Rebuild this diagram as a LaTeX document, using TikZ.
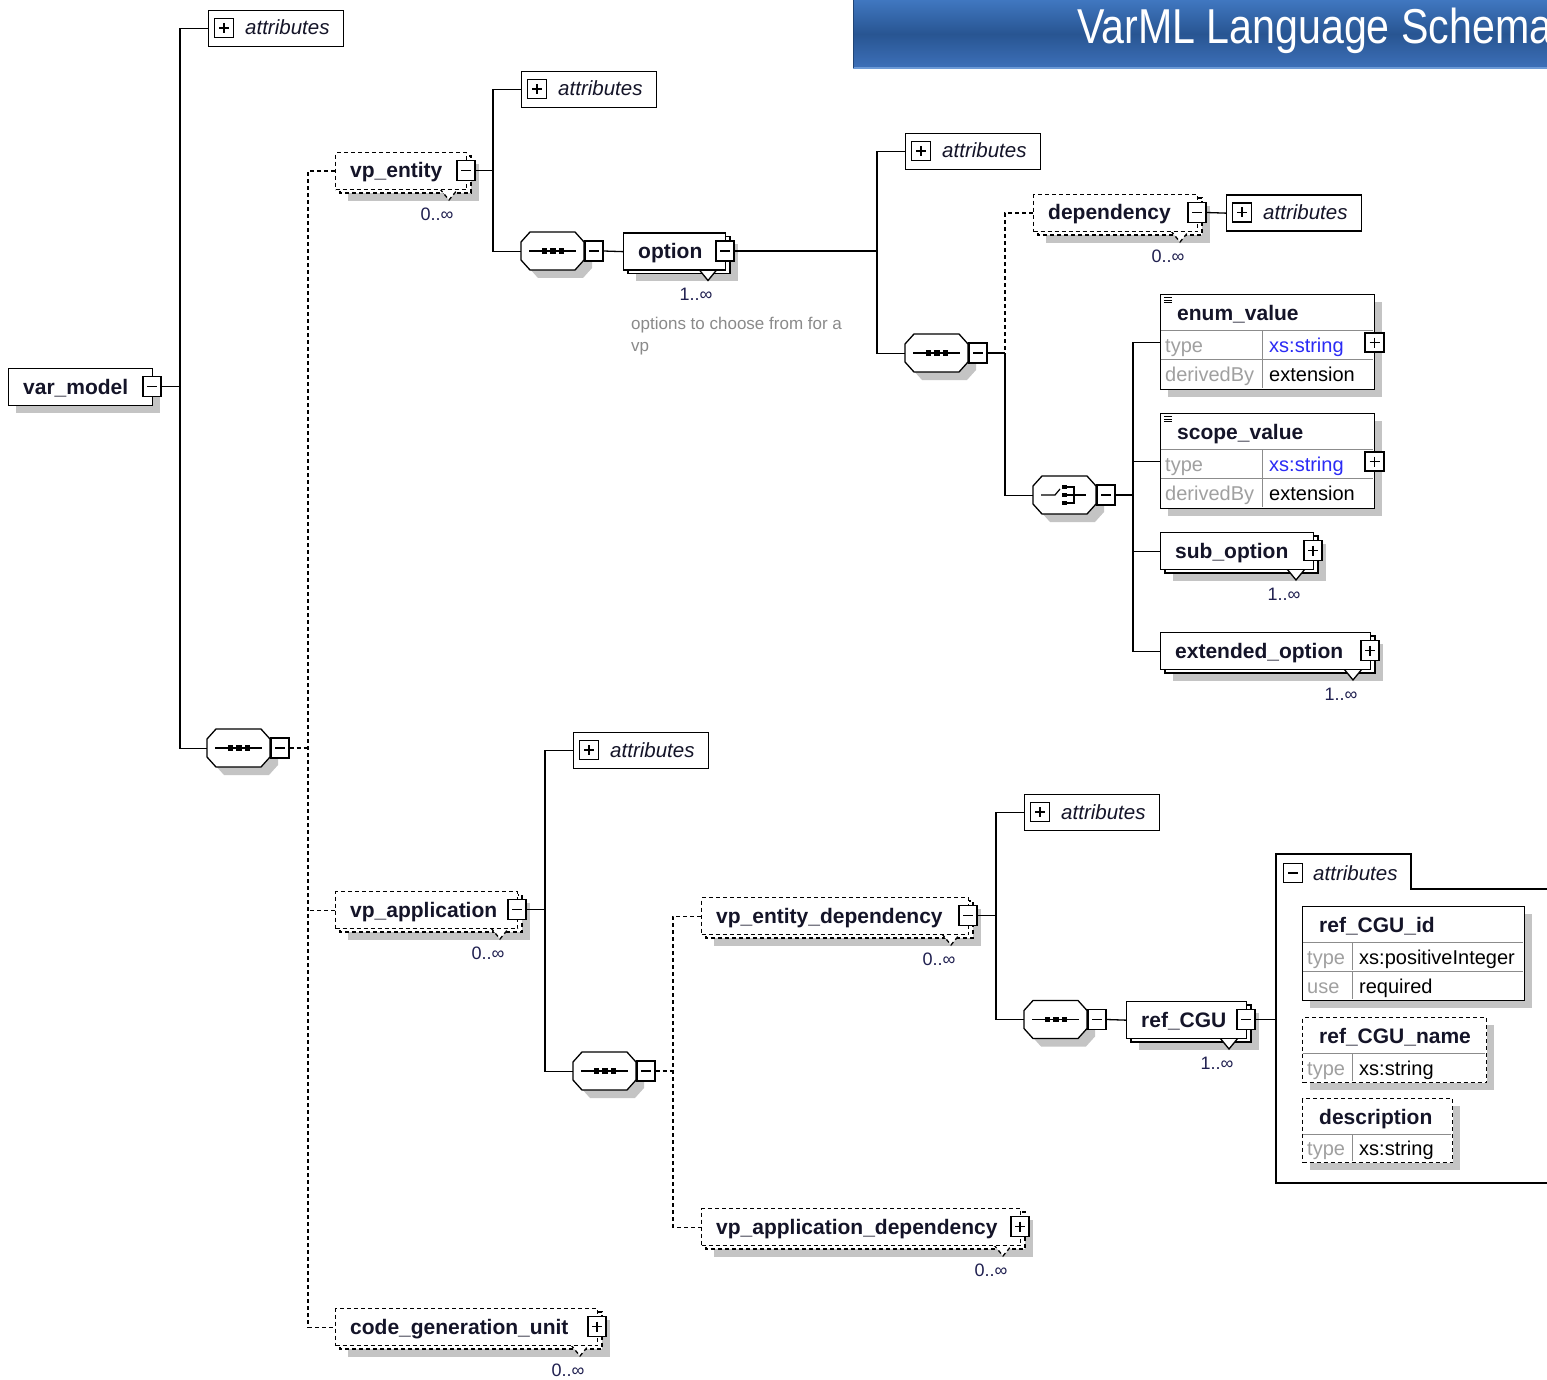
\documentclass[tikz,border=0pt]{standalone}
\usepackage{fontspec}
\setmainfont{Liberation Sans}
\usepackage{graphicx}
\definecolor{shadowc}{HTML}{C4C4C4}
\definecolor{keyc}{HTML}{A0A0A0}
\definecolor{typec}{HTML}{2B2BF5}
\definecolor{multc}{HTML}{202050}
\definecolor{notec}{HTML}{8A8A8A}
\definecolor{namec}{HTML}{141428}
\definecolor{rowc}{HTML}{8C8C8C}
\definecolor{bannertop}{HTML}{4077C0}
\definecolor{bannermid}{HTML}{285592}
\definecolor{bannerbot}{HTML}{3D70B9}
\definecolor{banneredge}{HTML}{6C9AD6}

\tikzset{
  boxline/.style={line width=1.3pt},
  optline/.style={dash pattern=on 4pt off 3pt},
  reqline/.style={},
  conn/.style={draw, line width=1.3pt},
  elbox/.style={draw, fill=white, boxline, minimum height=37pt, inner sep=0pt, anchor=north west},
  tbox/.style={draw, fill=white, boxline, inner sep=0pt, anchor=north west},
  attrbox/.style={draw, fill=white, boxline, minimum width=135pt, minimum height=36pt, inner sep=0pt, anchor=north west},
  btn/.style={draw, fill=white, line width=1.2pt, minimum width=18pt, minimum height=20pt, inner sep=0pt},
  ibtn/.style={draw, fill=white, line width=1.2pt, minimum width=19pt, minimum height=19pt, inner sep=0pt},
  sign/.style={line width=1.3pt},
  elname/.style={anchor=base west, inner sep=0pt, font=\bfseries\fontsize{21pt}{24pt}\selectfont, text=namec},
  attrname/.style={anchor=base west, inner sep=0pt, font=\itshape\fontsize{20.5pt}{24pt}\selectfont, text=namec},
  mult/.style={inner sep=0pt, font=\fontsize{18pt}{20pt}\selectfont, text=multc},
  rowtext/.style={anchor=base west, inner sep=0pt, font=\fontsize{20pt}{22pt}\selectfont},
  rowline/.style={draw=rowc, line width=1pt},
  note/.style={anchor=base west, inner sep=0pt, font=\fontsize{17pt}{20pt}\selectfont, text=notec},
  anchorbox/.style={anchor=north west, inner sep=0pt}
}

% element box: name, left, top, width, label, line style, button (p/m), multiplicity
\newcommand\xsdElem[8]{%
  \if\relax\detokenize{#8}\relax
    \fill[shadowc] (#2+8,#3+8) rectangle ++(#4,37);
  \else
    \fill[shadowc] (#2+13,#3+12) rectangle ++(#4,37);
    \draw[boxline,#6,fill=white] (#2+5,#3+4) rectangle ++(#4,37);
    \draw[boxline,#6,fill=white] (#2+#4-26,#3+37) -- (#2+#4-17,#3+48) -- (#2+#4-8,#3+37);
  \fi
  \node[elbox,#6,minimum width=#4pt] (#1) at (#2,#3) {};
  \node[elname] (#1-t) at (#2+15,#3+26) {#5};
  \node[btn] (#1-b) at (#2+#4,#3+18.5) {};
  \draw[sign] (#2+#4-5,#3+18.5) -- ++(10,0);
  \if p#7\draw[sign] (#2+#4,#3+13.5) -- ++(0,10);\fi
  \if\relax\detokenize{#8}\relax\else
    \node[mult] (#1-m) at (#2+#4-29,#3+62) {#8};
  \fi
}

% compositor (octagon with collapse button): name, left, top
\newcommand\xsdComp[3]{%
  \fill[shadowc] (#2+17,#3+8) -- (#2+62,#3+8) -- (#2+71,#3+18) -- (#2+71,#3+36) -- (#2+62,#3+46) -- (#2+17,#3+46) -- (#2+8,#3+36) -- (#2+8,#3+18) -- cycle;
  \draw[boxline,fill=white] (#2+9,#3) -- (#2+54,#3) -- (#2+63,#3+10) -- (#2+63,#3+28) -- (#2+54,#3+38) -- (#2+9,#3+38) -- (#2,#3+28) -- (#2,#3+10) -- cycle;
  \node[anchorbox,minimum width=63pt,minimum height=38pt] (#1) at (#2,#3) {};
  \node[btn] (#1-b) at (#2+73,#3+19) {};
  \draw[sign] (#2+68,#3+19) -- ++(10,0);
}
\newcommand\xsdSeqIcon[2]{%
  \draw[line width=1.3pt] (#1+8,#2+19) -- (#1+55,#2+19);
  \foreach \dx in {23.5,32,40.5} \fill (#1+\dx-2.75,#2+16.25) rectangle ++(5.5,5.5);
}
\newcommand\xsdChoiceIcon[2]{%
  \draw[line width=1.2pt] (#1+8,#2+19) -- (#1+22,#2+19) -- (#1+27,#2+13);
  \foreach \dy in {11,19,27} \fill (#1+29,#2+\dy-2.25) rectangle ++(4.5,4.5);
  \draw[line width=1.2pt] (#1+33,#2+11) -- (#1+41,#2+11) -- (#1+41,#2+27) -- (#1+33,#2+27);
  \draw[line width=1.2pt] (#1+33,#2+19) -- (#1+53,#2+19);
}

% collapsed attribute group: name, left, top
\newcommand\xsdAttr[3]{%
  \node[attrbox] (#1) at (#2,#3) {};
  \node[ibtn] (#1-i) at (#2+16,#3+18) {};
  \draw[sign] (#2+11,#3+18) -- ++(10,0) (#2+16,#3+13) -- ++(0,10);
  \node[attrname] (#1-t) at (#2+37,#3+25) {attributes};
}

% type table: name, left, top, width, height, line style, title
\newcommand\xsdTable[7]{%
  \fill[shadowc] (#2+8,#3+8) rectangle ++(#4,#5);
  \node[tbox,#6,minimum width=#4pt,minimum height=#5pt] (#1) at (#2,#3) {};
  \node[elname] (#1-t) at (#2+17,#3+26) {#7};
}
% table row: name, left, top, height, width, column offset, key, value, value colour
\newcommand\xsdRow[9]{%
  \draw[rowline] (#2+0.7,#3) -- ++(#5-1.4,0);
  \draw[rowline] (#2+#6,#3) -- ++(0,#4-0.7);
  \node[rowtext,text=keyc] (#1-k) at (#2+5,#3+#4/2+7.5) {#7};
  \node[rowtext,text=#9] (#1-v) at (#2+#6+7,#3+#4/2+7.5) {#8};
}

\begin{document}
\begin{tikzpicture}[x=1pt,y=-1pt]
\useasboundingbox (0,0) rectangle (1547,1380);
\clip (0,0) rectangle (1547,1380);
\fill[white] (0,0) rectangle (1547,1380);

% title banner
\shade[top color=bannertop, bottom color=bannerbot, middle color=bannermid] (853,0) rectangle (1560,68);
\draw[banneredge, line width=1.5pt] (853,68) -- (1560,68);
\draw[bannermid!80!black, line width=1pt] (853.5,0) -- (853.5,68);
\node[anchor=base west, inner sep=0pt, text=white, font=\fontsize{49pt}{52pt}\selectfont] (title) at (1077,44) {\scalebox{0.84}[1]{VarML Language Schema}};

% root and its content model
\xsdElem{var}{8}{368}{144}{var\_model}{reqline}{m}{}
\xsdAttr{attr1}{208}{10}
\xsdComp{seq0}{207}{729}
\xsdSeqIcon{207}{729}

% vp_entity branch
\xsdElem{vpe}{335}{152}{131}{vp\_entity}{optline}{m}{0..∞}
\xsdAttr{attr2}{521}{71}
\xsdComp{seq1}{521}{232}
\xsdSeqIcon{521}{232}
\xsdElem{opt}{623}{232.5}{102}{option}{reqline}{m}{1..∞}
\node[note] (optnote1) at (631,330) {options to choose from for a};
\node[note] (optnote2) at (631,351) {vp};

\xsdAttr{attr3}{905}{133}
\xsdComp{seq2}{905}{334}
\xsdSeqIcon{905}{334}
\xsdElem{dep}{1033}{194}{164}{dependency}{optline}{m}{0..∞}
\xsdAttr{attr4}{1226}{194.5}
\xsdComp{choice}{1033}{476}
\xsdChoiceIcon{1033}{476}

% choice alternatives
\xsdTable{enum}{1160}{294}{214}{95}{reqline}{enum\_value}
\xsdRow{enumr1}{1160}{330}{29.5}{214}{102}{type}{xs:string}{typec}
\xsdRow{enumr2}{1160}{359.5}{29.5}{214}{102}{derivedBy}{extension}{black}
\draw[line width=0.8pt] (1164,297.5) -- ++(8,0) (1164,300) -- ++(8,0) (1164,302.5) -- ++(8,0);
\node[ibtn] (enum-b) at (1374.5,342.5) {};
\draw[sign] (1369.5,342.5) -- ++(10,0) (1374.5,337.5) -- ++(0,10);

\xsdTable{scope}{1160}{413}{214}{95}{reqline}{scope\_value}
\xsdRow{scoper1}{1160}{449}{29.5}{214}{102}{type}{xs:string}{typec}
\xsdRow{scoper2}{1160}{478.5}{29.5}{214}{102}{derivedBy}{extension}{black}
\draw[line width=0.8pt] (1164,416.5) -- ++(8,0) (1164,419) -- ++(8,0) (1164,421.5) -- ++(8,0);
\node[ibtn] (scope-b) at (1374.5,461.5) {};
\draw[sign] (1369.5,461.5) -- ++(10,0) (1374.5,456.5) -- ++(0,10);

\xsdElem{sub}{1160}{532}{153}{sub\_option}{reqline}{p}{1..∞}
\xsdElem{ext}{1160}{632}{210}{extended\_option}{reqline}{p}{1..∞}

% vp_application branch
\xsdElem{vpa}{335}{891}{182}{vp\_application}{optline}{m}{0..∞}
\xsdAttr{attr5}{573}{732}
\xsdComp{seq3}{573}{1052}
\xsdSeqIcon{573}{1052}
\xsdElem{ved}{701}{897}{267}{vp\_entity\_dependency}{optline}{m}{0..∞}
\xsdElem{vad}{701}{1208}{319}{vp\_application\_dependency}{optline}{p}{0..∞}
\xsdAttr{attr6}{1024}{794}
\xsdComp{seq4}{1024}{1000.5}
\xsdSeqIcon{1024}{1000.5}
\xsdElem{ref}{1126}{1001}{120}{ref\_CGU}{reqline}{m}{1..∞}

% expanded attribute group of ref_CGU
\node[anchorbox,minimum width=284pt,minimum height=294pt] (grp) at (1276,889) {};
\draw[boxline] (1560,889) -- (1411,889) -- (1411,854) -- (1276,854) -- (1276,1183) -- (1560,1183);
\node[ibtn] (grp-i) at (1293,873) {};
\draw[sign] (1288,873) -- ++(10,0);
\node[attrname] (grp-t) at (1313,880) {attributes};

\xsdTable{rid}{1302}{906}{222}{94}{reqline}{ref\_CGU\_id}
\xsdRow{ridr1}{1302}{942}{29}{222}{50}{type}{xs:positiveInteger}{black}
\xsdRow{ridr2}{1302}{971}{29}{222}{50}{use}{required}{black}
\xsdTable{rname}{1302}{1017}{184}{65}{optline}{ref\_CGU\_name}
\xsdRow{rnamer1}{1302}{1053}{29}{184}{50}{type}{xs:string}{black}
\xsdTable{rdesc}{1302}{1098}{150}{64}{optline}{description}
\xsdRow{rdescr1}{1302}{1134}{28}{150}{50}{type}{xs:string}{black}

\xsdElem{cgu}{335}{1308}{262}{code\_generation\_unit}{optline}{p}{0..∞}

% connectors
\coordinate (j0) at (180,386.5);
\draw[conn] (var-b.east) -- (j0);
\draw[conn] (attr1.west) -| (j0) |- (seq0.west);

\coordinate (j1) at (308,748);
\draw[conn,optline] (seq0-b.east) -- (j1);
\draw[conn,optline] (vpe.west) -| (j1) |- (cgu.west);
\draw[conn,optline] (vpa.west) -- (vpa.west -| j1);

\coordinate (j2) at (493,170.5);
\draw[conn] (vpe-b.east) -- (j2);
\draw[conn] (attr2.west) -| (j2) |- (seq1.west);
\draw[conn] (seq1-b.east) -- (opt.west);

\coordinate (j3) at (877,251);
\draw[conn] (opt-b.east) -- (j3);
\draw[conn] (attr3.west) -| (j3) |- (seq2.west);

\coordinate (j4) at (1005,353);
\draw[conn] (seq2-b.east) -- (j4);
\draw[conn,optline] (dep.west) -| (j4);
\draw[conn] (j4) |- (choice.west);
\draw[conn] (dep-b.east) -- (attr4.west);

\coordinate (j5) at (1133,495);
\draw[conn] (choice-b.east) -- (j5);
\draw[conn] (enum.west) -| (j5) |- (ext.west);
\draw[conn] (scope.west) -- (scope.west -| j5);
\draw[conn] (sub.west) -- (sub.west -| j5);

\coordinate (j6) at (545,909.5);
\draw[conn] (vpa-b.east) -- (j6);
\draw[conn] (attr5.west) -| (j6) |- (seq3.west);

\coordinate (j7) at (673,1071);
\draw[conn,optline] (seq3-b.east) -- (j7);
\draw[conn,optline] (ved.west) -| (j7) |- (vad.west);

\coordinate (j8) at (996,915.5);
\draw[conn] (ved-b.east) -- (j8);
\draw[conn] (attr6.west) -| (j8) |- (seq4.west);
\draw[conn] (seq4-b.east) -- (ref.west);
\draw[conn] (ref-b.east) -- (ref-b.east -| grp.west);
\end{tikzpicture}
\end{document}
